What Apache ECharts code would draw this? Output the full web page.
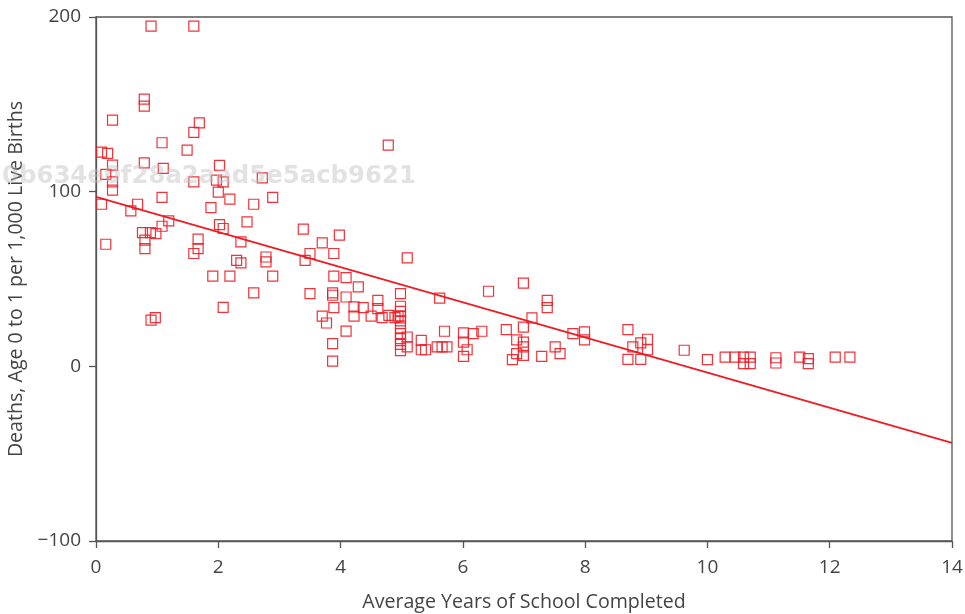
<!DOCTYPE html>
<html>
<head>
<meta charset="utf-8">
<script src="https://cdn.jsdelivr.net/npm/echarts@6/dist/echarts.min.js"></script>
<style>
  html, body { margin: 0; padding: 0; background: #fff; }
  #chart { width: 965px; height: 614px; }
</style>
</head>
<body>
<div id="chart"></div>
<script>
// Average years of schooling per country
const schooling = [
  0.90, 1.60, 0.79, 0.79, 0.27, 1.69, 1.60, 1.08, 1.49, 0.09,
  0.19, 0.27, 0.79, 1.10, 2.02, 0.16, 0.27, 0.27, 1.60, 1.97,
  2.08, 2.00, 2.72, 1.08, 2.19, 2.89, 0.09, 0.68, 1.88, 2.58,
  0.57, 1.08, 1.19, 2.02, 2.08, 2.47, 3.39, 3.70, 0.76, 0.89,
  0.98, 0.80, 0.80, 0.16, 1.67, 1.67, 1.60, 2.37, 3.50, 3.42,
  2.30, 2.37, 2.78, 2.78, 1.91, 2.19, 2.89, 2.58, 3.50, 2.08,
  0.90, 0.97, 3.70, 3.77, 3.98, 3.89, 5.09, 3.89, 4.09, 4.29,
  3.87, 3.87, 4.09, 4.98, 5.62, 6.42, 6.99, 4.61, 4.61, 3.89,
  4.22, 4.37, 4.98, 4.98, 4.98, 4.98, 4.98, 4.98, 4.98, 4.98,
  4.98, 4.22, 4.50, 4.68, 4.79, 4.89, 4.94, 4.09, 5.09, 5.09,
  5.32, 5.32, 5.39, 5.58, 5.66, 5.74, 5.70, 6.01, 6.01, 6.07,
  6.01, 6.17, 6.31, 6.71, 6.99, 6.88, 6.99, 6.99, 6.99, 6.88,
  6.81, 7.13, 7.38, 7.38, 7.51, 7.59, 7.29, 7.80, 7.99, 7.99,
  3.87, 3.87, 8.70, 8.78, 8.91, 9.02, 9.02, 8.70, 8.91, 9.62,
  10.00, 10.29, 10.45, 10.59, 10.59, 10.70, 10.70, 11.12, 11.12, 11.51,
  11.65, 11.65, 12.09, 12.33, 4.78
];

// Infant deaths (age 0 to 1) per 1,000 live births
const infantDeaths = [
  194.8, 194.8, 153.0, 149.0, 141.0, 139.4, 133.9, 128.0, 123.8, 122.6,
  121.9, 115.2, 116.5, 113.3, 115.0, 109.9, 105.6, 100.9, 105.6, 106.6,
  105.6, 99.7, 107.9, 96.7, 95.7, 96.7, 92.8, 92.8, 90.9, 92.8,
  89.0, 80.2, 83.3, 81.1, 78.9, 82.7, 78.5, 70.7, 76.6, 76.6,
  76.0, 72.2, 67.4, 69.9, 72.8, 67.4, 64.6, 71.2, 64.6, 60.7,
  60.7, 59.2, 62.6, 59.8, 51.6, 51.6, 51.6, 42.0, 41.6, 33.8,
  26.4, 27.9, 28.7, 24.8, 75.1, 64.6, 62.1, 51.6, 50.8, 45.5,
  42.0, 40.7, 39.7, 41.6, 39.1, 43.0, 47.6, 37.8, 33.0, 33.6,
  34.0, 33.6, 34.4, 31.5, 28.7, 26.0, 22.0, 18.7, 15.9, 12.6,
  9.0, 28.7, 28.7, 27.9, 29.2, 27.9, 28.7, 20.2, 16.8, 11.1,
  14.9, 9.5, 9.5, 11.1, 11.1, 11.1, 20.1, 19.1, 13.9, 9.5,
  5.7, 18.7, 20.1, 21.0, 22.5, 15.2, 13.9, 11.1, 6.3, 7.3,
  3.8, 27.7, 37.8, 33.6, 11.1, 7.3, 5.7, 18.7, 19.7, 15.2,
  13.0, 3.0, 21.0, 11.1, 13.4, 15.5, 9.5, 4.0, 4.0, 9.2,
  3.8, 5.3, 5.3, 5.3, 1.5, 5.3, 1.5, 4.9, 1.9, 5.3,
  4.4, 1.5, 5.3, 5.3, 126.6
];

// Least-squares line: deaths = intercept + slope * years
const fitIntercept = 97.0;
const fitSlope = -10.06;
const fitRange = [0, 14];

const xTicks = { min: 0, max: 14, interval: 2 };
const yTicks = { min: -100, max: 200, interval: 100 };

const stampText = '0b634e0f28a2aad5e5acb9621';

const points = schooling.map((x, i) => [x, infantDeaths[i]]);
const fitLine = fitRange.map(x => [x, fitIntercept + fitSlope * x]);

const RED = '#ee1c24';
const AXIS = '#555';
const TEXT = '#444';
const FONT = '"Open Sans", "Noto Sans", sans-serif';
const FS = 19;
const TITLE_FS = 19.6;

const chart = echarts.init(document.getElementById('chart'), null, { renderer: 'canvas' });

chart.setOption({
  animation: false,
  backgroundColor: '#fff',
  grid: {
    left: 96, right: 13, top: 17, bottom: 73,
    outerBoundsMode: 'none',
    show: true, borderColor: AXIS, borderWidth: 1.3, backgroundColor: 'transparent'
  },
  xAxis: {
    type: 'value',
    min: xTicks.min, max: xTicks.max, interval: xTicks.interval,
    name: 'Average Years of School Completed',
    nameLocation: 'middle', nameGap: 51,
    nameTextStyle: { color: TEXT, fontSize: TITLE_FS, fontFamily: FONT },
    axisLine: { show: true, onZero: false, lineStyle: { color: AXIS, width: 1.3 } },
    axisTick: { show: true, length: 7, lineStyle: { color: AXIS, width: 1.3 } },
    axisLabel: { color: TEXT, fontSize: FS, fontFamily: FONT, margin: 17 },
    splitLine: { show: false }
  },
  yAxis: {
    type: 'value',
    min: yTicks.min, max: yTicks.max, interval: yTicks.interval,
    name: 'Deaths, Age 0 to 1 per 1,000 Live Births',
    nameLocation: 'middle', nameGap: 68, nameRotate: 90,
    nameTextStyle: { color: TEXT, fontSize: TITLE_FS, fontFamily: FONT },
    axisLine: { show: true, onZero: false, lineStyle: { color: AXIS, width: 1.3 } },
    axisTick: { show: true, length: 7, lineStyle: { color: AXIS, width: 1.3 } },
    axisLabel: {
      color: TEXT, fontSize: FS, fontFamily: FONT, margin: 15,
      formatter: v => (v < 0 ? '\u2212' + Math.abs(v) : String(v))
    },
    splitLine: { show: false }
  },
  graphic: [{
    type: 'text',
    left: 2, top: 165, z: 100,
    silent: true,
    style: {
      text: stampText,
      font: 'bold 24.4px "DejaVu Sans"',
      fill: 'rgba(190,190,190,0.45)'
    }
  }],
  series: [
    {
      type: 'scatter',
      data: points,
      symbol: 'rect',
      symbolSize: 10,
      itemStyle: { color: 'rgba(255,255,255,0)', borderColor: RED, borderWidth: 1.2, opacity: 0.9 },
      z: 3
    },
    {
      type: 'line',
      data: fitLine,
      showSymbol: false,
      lineStyle: { color: RED, width: 1.8 },
      z: 2
    }
  ]
});
</script>
</body>
</html>
